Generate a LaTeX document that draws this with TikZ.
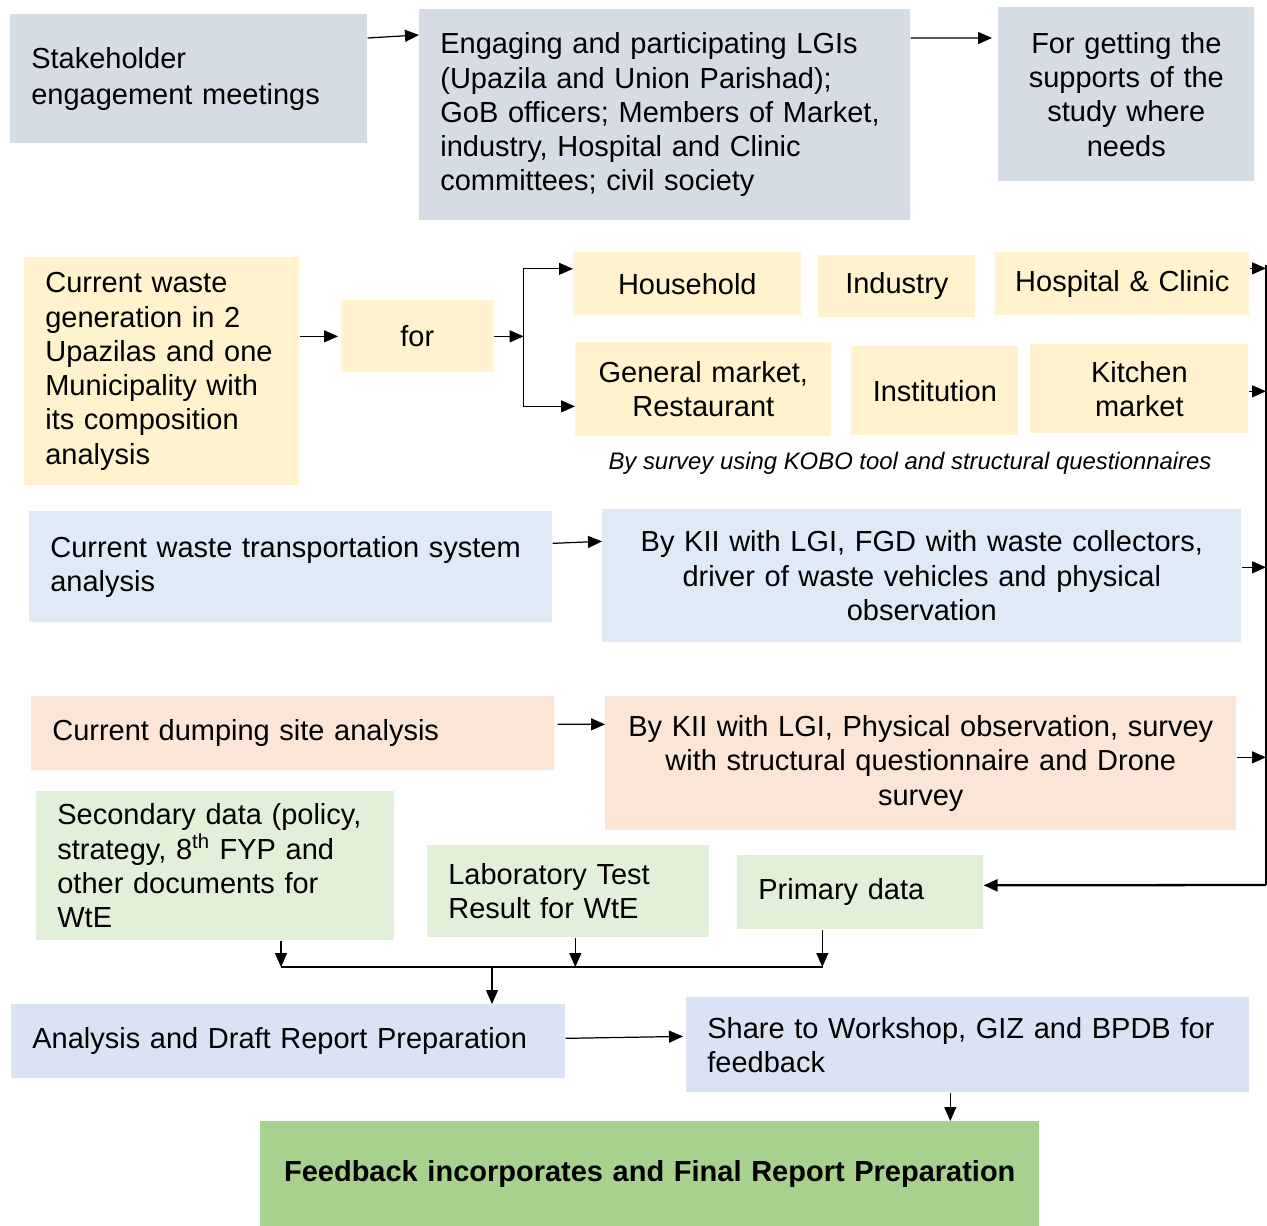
\documentclass[tikz,border=0pt]{standalone}
\usepackage{fontspec}
\setmainfont{Liberation Sans}
\usetikzlibrary{arrows.meta}
\definecolor{cStake}{HTML}{D6DCE5}
\definecolor{cYel}{HTML}{FFF2CC}
\definecolor{cBlu}{HTML}{DEEBF7}
\definecolor{cPch}{HTML}{FBE5D6}
\definecolor{cGrn}{HTML}{E2F0D9}
\definecolor{cRep}{HTML}{DAE3F3}
\definecolor{cFin}{HTML}{A9D18E}
\begin{document}
\begin{tikzpicture}[x=0.02cm, y=-0.02cm, >={Triangle[length=0.28cm,width=0.24cm]},
  box/.style={anchor=north west, inner ysep=0pt, font=\fontsize{16.5}{19.5}\selectfont},
  lbox/.style={box, inner xsep=0.42cm, align=left},
  cbox/.style={box, inner xsep=0pt, align=center},
  conn/.style={->, line width=0.7pt},
  bus/.style={line width=1.3pt}]
  \useasboundingbox (0,0) rectangle (1267,1226);

  % Stakeholder row
  \node[lbox, fill=cStake, text width=6.30cm, minimum height=2.58cm] (stake) at (10,14)
    {Stakeholder\\[1pt]engagement meetings\\[10pt]};
  \node[lbox, fill=cStake, text width=8.98cm, minimum height=4.22cm] (engage) at (419,9)
    {Engaging and participating LGIs\\(Upazila and Union Parishad);\\GoB officers; Members of Market,\\industry, Hospital and Clinic\\committees; civil society};
  \node[cbox, fill=cStake, text width=5.12cm, minimum height=3.48cm] (support) at (998,7)
    {For getting the\\supports of the\\study where\\needs};
  \draw[conn] ([yshift=-0.48cm]stake.north east) -- ([yshift=-0.52cm]engage.north west);
  \draw[conn, shorten >=0.12cm] ([yshift=-0.58cm]engage.north east) -- ([yshift=-0.62cm]support.north west);

  % Waste generation
  \node[lbox, fill=cYel, text width=4.66cm, minimum height=4.56cm] (gen) at (24,257)
    {Current waste\\generation in 2\\Upazilas and one\\Municipality with\\its composition\\analysis};
  \node[cbox, fill=cYel, text width=3.04cm, minimum height=1.44cm] (for) at (341,300) {for};
  \node[cbox, fill=cYel, text width=4.56cm, minimum height=1.26cm] (house) at (573,252) {Household};
  \node[cbox, fill=cYel, text width=3.14cm, minimum height=1.24cm] (indus) at (818,255) {Industry};
  \node[cbox, fill=cYel, text width=5.08cm, minimum height=1.26cm] (hosp) at (995,252) {Hospital \& Clinic};
  \node[cbox, fill=cYel, text width=5.12cm, minimum height=1.88cm] (genmkt) at (575,342) {General market,\\Restaurant};
  \node[cbox, fill=cYel, text width=3.34cm, minimum height=1.78cm] (inst) at (851,346) {Institution};
  \node[cbox, fill=cYel, text width=4.36cm, minimum height=1.78cm] (kitch) at (1030,344) {Kitchen\\market};
  \node[font=\fontsize{13.6}{16}\selectfont\itshape] (cap) at (910,463)
    {By survey using KOBO tool and structural questionnaires};
  \coordinate (br) at ([xshift=0.6cm]for.east);
  \draw[conn, shorten >=0.06cm] (gen.east |- for) -- (for.west);
  \draw[conn] (for.east) -- (br);
  \draw[conn] (br) |- ([yshift=0.3cm]house.west);
  \draw[conn] (br) |- ([yshift=-0.34cm]genmkt.west);

  % Transportation and dumping site
  \node[lbox, fill=cBlu, text width=9.62cm, minimum height=2.22cm] (trans) at (29,511)
    {Current waste transportation system\\analysis};
  \node[cbox, fill=cBlu, text width=12.78cm, minimum height=2.66cm] (ktrans) at (602,509)
    {By KII with LGI, FGD with waste collectors,\\driver of waste vehicles and physical\\observation};
  \node[lbox, fill=cPch, text width=9.62cm, minimum height=1.48cm] (dump) at (31,696)
    {Current dumping site analysis};
  \node[cbox, fill=cPch, text width=12.62cm, minimum height=2.68cm] (kdump) at (605,696)
    {By KII with LGI, Physical observation, survey\\with structural questionnaire and Drone\\survey};
  \draw[conn] ([yshift=0.47cm]trans.east) -- ([yshift=0.69cm]ktrans.west);
  \draw[conn] ([xshift=0.06cm,yshift=0.18cm]dump.east) -- ([yshift=0.78cm]kdump.west);

  % Data sources
  \node[lbox, fill=cGrn, text width=6.32cm, minimum height=2.98cm] (sec) at (36,791)
    {Secondary data (policy,\\strategy, 8\textsuperscript{th} FYP and\\other documents for\\WtE};
  \node[lbox, fill=cGrn, text width=4.80cm, minimum height=1.84cm] (lab) at (427,845)
    {Laboratory Test\\Result for WtE};
  \node[lbox, fill=cGrn, text width=4.08cm, minimum height=1.48cm] (prim) at (737,855) {Primary data};

  % Right-hand collector line
  \coordinate (rtop) at (1266,265);
  \coordinate (rbot) at (1266,885);
  \draw[conn] ([yshift=0.31cm]hosp.east) coordinate (r1) -- (r1 -| rtop);
  \draw[conn] ([yshift=-0.05cm]kitch.east) coordinate (r2) -- (r2 -| rtop);
  \draw[conn] ([yshift=0.17cm]ktrans.east) coordinate (r3) -- (r3 -| rtop);
  \draw[conn] ([yshift=0.12cm]kdump.east) coordinate (r4) -- (r4 -| rtop);
  \draw[bus] (rtop) -- (rbot);
  \draw[bus, ->] (rbot) -- ([yshift=0.14cm]prim.east);

  % Merging to the report
  \node[lbox, fill=cRep, text width=10.24cm, minimum height=1.48cm] (anal) at (11,1004)
    {Analysis and Draft Report Preparation};
  \node[lbox, fill=cRep, text width=10.42cm, minimum height=1.9cm] (share) at (686,997)
    {Share to Workshop, GIZ and BPDB for\\feedback};
  \node[cbox, fill=cFin, text width=15.58cm, minimum height=2.1cm, font=\fontsize{16.5}{19.5}\selectfont\bfseries] (feed) at (260,1121)
    {Feedback incorporates and Final Report Preparation};
  \coordinate (mL) at (281,967);
  \coordinate (mM) at (492,967);
  \coordinate (mR) at (823,967);
  \draw[bus] (mL) -- (mR);
  \draw[conn] (sec.south -| mL) -- (mL);
  \draw[conn] ([xshift=0.14cm]lab.south) coordinate (l1) -- (l1 |- mL);
  \draw[conn] ([xshift=-0.76cm]prim.south) coordinate (p1) -- (p1 |- mR);
  \draw[conn] (mM) -- (mM |- anal.north);
  \draw[conn, shorten >=0.06cm] ([yshift=0.06cm]anal.east) -- ([yshift=0.17cm]share.west);
  \draw[conn] ([xshift=-0.35cm]share.south) coordinate (s1) -- (s1 |- feed.north);
\end{tikzpicture}
\end{document}
